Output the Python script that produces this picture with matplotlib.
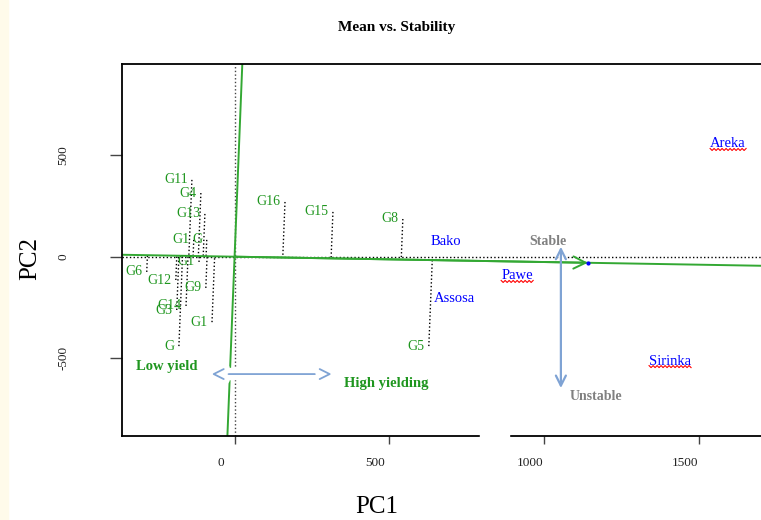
import numpy as np
import matplotlib
matplotlib.use('Agg')
import matplotlib.pyplot as plt
import matplotlib.patheffects as pe
from matplotlib.patches import Rectangle
from matplotlib.lines import Line2D
from matplotlib.transforms import IdentityTransform

plt.rcParams['font.family'] = ['Liberation Serif', 'DejaVu Serif']

# genotype scores (PC1, PC2) - labels as they show in the picture
gen_names = ['G11', 'G4', 'G13', 'G1', 'G', 'G1', 'G6', 'G12', 'G9',
             'G14', 'G3', 'G1', 'G', 'G16', 'G15', 'G8', 'G5']
gen_pc1 = [-138, -109, -96, -132, -90, -115, -284, -190, -93,
           -157, -187, -73, -180, 163, 318, 544, 628]
gen_pc2 = [379, 314, 211, 83, 83, -26, -75, -115, -154,
           -243, -263, -323, -441, 270, 221, 186, -441]

# environment scores
env_names = ['Areka', 'Bako', 'Pawe', 'Assosa', 'Sirinka']
env_pc1 = [1595, 683, 913, 712, 1408]
env_pc2 = [556, 77, -95, -204, -515]
env_wavy = ['Areka', 'Pawe', 'Sirinka']

# average environment coordinate (end of the ATC arrow)
aec_pc1, aec_pc2 = 1142, -30

xticks = [0, 500, 1000, 1500]
yticks = [-500, 0, 500]

green_line = '#33a833'
green_text = '#1f961f'
arrow_blue = '#7fa3d4'

W, H = 761, 520
fig = plt.figure(figsize=(W / 100, H / 100), dpi=100)
fig.patches.append(Rectangle((0, 0), 8 / W, 1, transform=fig.transFigure,
                             color='#fffbea', zorder=0))
ax = fig.add_axes([122 / W, (H - 435.7) / H, (W - 122) / W, (435.7 - 63.7) / H])
ax.set_xlim(-364, 1702)
ax.set_ylim(-883, 952)

for s in ['left', 'top', 'bottom']:
    ax.spines[s].set_linewidth(1.3)
ax.spines['right'].set_visible(False)

# reference lines through the origin
ax.axhline(0, color='black', ls=':', lw=1, zorder=1)
ax.axvline(0, color='#444444', ls=':', lw=1, zorder=1)

# average tester coordinate axes
ax.axline((0, 0), (aec_pc1, aec_pc2), color=green_line, lw=1.4, zorder=2)
ax.axline((0, 0), (-aec_pc2, aec_pc1), color=green_line, lw=1.4, zorder=2)
ax.annotate('', xy=(aec_pc1, aec_pc2), xytext=(0, 0),
            arrowprops=dict(arrowstyle='->', color=green_line, lw=1.4,
                            mutation_scale=22, shrinkA=0, shrinkB=0), zorder=2)
ax.plot([aec_pc1], [aec_pc2], 'o', color='blue', ms=2, zorder=3)

# projections of genotypes onto the ATC abscissa
u = np.array([aec_pc1, aec_pc2], dtype=float)
u /= np.linalg.norm(u)
gx = np.array(gen_pc1, dtype=float)
gy = np.array(gen_pc2, dtype=float)
t = gx * u[0] + gy * u[1]
for x0, y0, tt in zip(gx, gy, t):
    ax.plot([x0, tt * u[0]], [y0, tt * u[1]], color='black', ls=':', lw=1, zorder=1)

for name, x0, y0 in zip(gen_names, gen_pc1, gen_pc2):
    ax.annotate(name, (x0, y0), xytext=(-3, 0), textcoords='offset points',
                ha='right', va='center', color=green_text, fontsize=10, zorder=4)

env_texts = []
for name, x0, y0 in zip(env_names, env_pc1, env_pc2):
    txt = ax.text(x0, y0, name, ha='center', va='center', color='blue',
                  fontsize=10.5, zorder=4)
    if name in env_wavy:
        env_texts.append(txt)

# stability arrow
ax.annotate('', xy=(1055, 49), xytext=(1055, -648),
            arrowprops=dict(arrowstyle='<->', color=arrow_blue, lw=1.6,
                            mutation_scale=18, shrinkA=0, shrinkB=0), zorder=3)
ax.text(1014, 77, 'Stable', ha='center', va='center', color='#808080',
        fontsize=10, fontweight='bold')
ax.text(1168, -692, 'Unstable', ha='center', va='center', color='#808080',
        fontsize=10, fontweight='bold')

# yield arrow
yarr = ax.annotate('', xy=(-74, -579), xytext=(314, -579),
                   arrowprops=dict(arrowstyle='<->', color=arrow_blue, lw=1.3,
                                   mutation_scale=18, shrinkA=0, shrinkB=0), zorder=3)
yarr.arrow_patch.set_path_effects([pe.Stroke(linewidth=9, foreground='white'), pe.Normal()])
ax.text(-218, -541, 'Low yield', ha='center', va='center', color=green_text,
        fontsize=10.5, fontweight='bold')
ax.text(489, -625, 'High yielding', ha='center', va='center', color=green_text,
        fontsize=10.5, fontweight='bold')

# ticks and tick labels
ax.set_xticks(xticks)
ax.set_yticks(yticks)
ax.set_xticklabels([])
ax.set_yticklabels([])
ax.tick_params(axis='x', length=6, width=1, color='#444444')
ax.tick_params(axis='y', length=9, width=1, color='#444444')
for tk in xticks:
    ax.annotate(str(tk), xy=(tk, 0), xycoords=('data', 'axes fraction'),
                xytext=(-10, -20), textcoords='offset points',
                ha='center', va='center', fontsize=9.5, color='#222222')
for tk in yticks:
    ax.annotate(str(tk), xy=(0, tk), xycoords=('axes fraction', 'data'),
                xytext=(-42, 0), textcoords='offset points', rotation=90,
                ha='center', va='center', fontsize=9.5, color='#222222')

# small break in the bottom axis line
ax.add_patch(Rectangle((793, -0.01), 94, 0.02, transform=ax.get_xaxis_transform(),
                       color='white', clip_on=False, zorder=10))

fig.text(397 / W, 1 - 28 / H, 'Mean vs. Stability', ha='center', va='center',
         fontsize=11, fontweight='bold')
fig.text(377 / W, 1 - 507 / H, 'PC1', ha='center', va='center', fontsize=18)
fig.text(30 / W, 1 - 258 / H, 'PC2', ha='center', va='center', fontsize=18,
         rotation=90)

# red wavy underline under some environment names
fig.canvas.draw()
renderer = fig.canvas.get_renderer()
for txt in env_texts:
    bb = txt.get_window_extent(renderer)
    xs = np.arange(bb.x0, bb.x1 + 1, 2.0)
    ys = bb.y0 + 1 + np.where(np.arange(len(xs)) % 2 == 0, 1.0, -1.0)
    fig.add_artist(Line2D(xs, ys, transform=IdentityTransform(), color='red', lw=0.8))

fig.savefig('out.png', dpi=100)
